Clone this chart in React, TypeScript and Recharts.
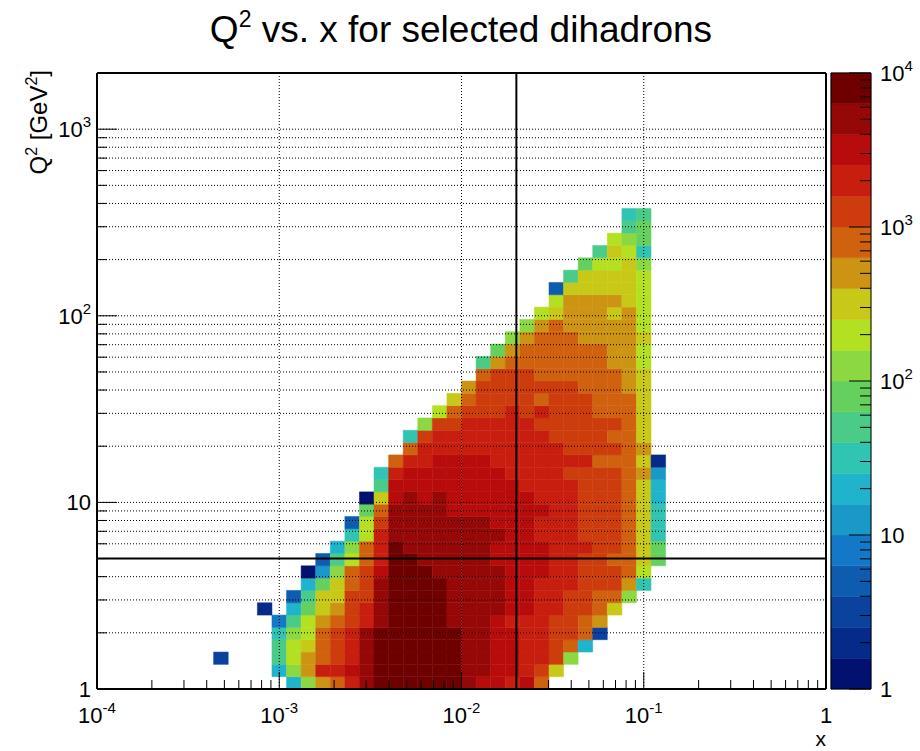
import { ReferenceArea, ReferenceLine, ScatterChart, XAxis, YAxis } from 'recharts';

const FONT = '"Liberation Sans", Arial, Helvetica, sans-serif';

// histogram binning: 50 log-spaced bins on each axis
const X_RANGE: [number, number] = [1e-4, 1];
const Y_RANGE: [number, number] = [1, 2000];
const Z_RANGE: [number, number] = [1, 1e4];
const N_BINS = 50;

// cut lines drawn over the histogram
const X_CUT = 0.02;
const Q2_CUT = 5;

// colour scale, 20 steps (5 per decade) from 1 to 10^4 entries
const PALETTE = [
  '#021070', '#062a8a', '#0a429e', '#0e5cb0', '#1478c8',
  '#1a98c8', '#20b4cc', '#30c4b2', '#4acc88', '#66d05e',
  '#8cd842', '#b4e022', '#c8c818', '#cc9412', '#d0620f',
  '#cc3c0c', '#c81e10', '#b80c0c', '#960808', '#6e0000',
];

// bin contents, one row per Q2 bin (bottom row first).
// ROW_START is the first x bin of the row; each character is the colour step
// of a bin (0-9, then a-j for 10-19), '.' is an empty bin
const ROW_START = [
  13, 12, 8, 12, 12, 12, 11, 13, 14, 14, 15, 16, 17, 17, 18, 18, 19, 19, 20, 21,
  21, 22, 23, 24, 25, 26, 26, 27, 28, 29, 30, 31, 31, 32, 33, 34, 35, 36, 36,
];
const ROW_LEVELS = [
  '6adegijjjjjjihhghe',
  '6adgghijjjjjjiihhgfc',
  '2...8bdefgijjjjjjiihhggfa',
  '8bcefgijjjjjjiihhggfe6',
  '7abefgijjjjjjiihhggffe2',
  '48bdefgijjjjiiihgggffed',
  '1.69cdfgijjjjiiiihhggffec',
  '38ccffijjjjiiiihhggffeea',
  '69cefijjjjiiiihhgggfffd7',
  '05aefhjjjiiiiihhhggfffeb',
  '38begjjiiiiihhhhggffeec9',
  '6aegjiiiiiihhhhgggffec9',
  '7bgiiiiiiiihhgggfffec7',
  '3bfiiiiiiihhhgggfffec7',
  '9eiiiihhhhhhhggfffec7',
  '0chihihhhhhhgggfffec6',
  '8hhhhhhhhhggggfffec6',
  '7ghhhhhhhggggffffed5',
  'egghhhhgggggggeeec1',
  'eggggggggggffffed',
  '7fggggggggffffeec',
  'affgggggffffffec',
  'befffgfgfffeeec',
  'ceffffefffeeec',
  'dfffffffeeedc',
  'efffeeeeeedc',
  '8deeeeeeeddb',
  '9deeeeeeddb',
  'adeeeddddc',
  'adedddddb',
  'bcdddcdb',
  'bddddcb',
  '3cccccb',
  '8ccccb',
  '9bbca',
  '8cb7',
  'ba9',
  '89',
  '78',
];

const logTicks = (lo: number, hi: number) => {
  const ticks: number[] = [];
  for (let e = lo; e < hi; e++) {
    for (let m = 1; m < 10; m++) ticks.push(m * Math.pow(10, e));
  }
  ticks.push(Math.pow(10, hi));
  return ticks;
};

const X_TICKS = logTicks(-4, 0);
const Y_TICKS = [...logTicks(0, 3), 2000];
const Z_TICKS = logTicks(0, 4);

const binEdge = (range: [number, number], k: number) =>
  range[0] * Math.pow(range[1] / range[0], k / N_BINS);

const colorOf = (count: number) => {
  const step = Math.floor(Math.log10(count) * 5);
  return PALETTE[Math.max(0, Math.min(PALETTE.length - 1, step))];
};

type Cell = { x1: number; x2: number; y1: number; y2: number; count: number };

const cells: Cell[] = [];
ROW_LEVELS.forEach((row, j) => {
  row.split('').forEach((ch, p) => {
    if (ch === '.') return;
    const i = ROW_START[j] + p;
    cells.push({
      x1: binEdge(X_RANGE, i),
      x2: binEdge(X_RANGE, i + 1),
      y1: binEdge(Y_RANGE, j),
      y2: binEdge(Y_RANGE, j + 1),
      count: Math.pow(10, (parseInt(ch, 36) + 0.5) / 5),
    });
  });
});

const isMajor = (v: number) => {
  const l = Math.log10(v);
  return Math.abs(l - Math.round(l)) < 1e-6;
};

function PowLabel({ x, y, value, anchor }: { x: number; y: number; value: number; anchor: 'start' | 'middle' | 'end' }) {
  const e = Math.round(Math.log10(value));
  return (
    <text x={x} y={y} textAnchor={anchor} fontSize={22} fontFamily={FONT} fill="#000">
      {e === 0 ? '1' : '10'}
      {e !== 0 && e !== 1 && (
        <tspan dy={-10} fontSize={15}>
          {e < 0 ? `-${-e}` : `${e}`}
        </tspan>
      )}
    </text>
  );
}

const XTick = (props: any) => {
  const { x, y, payload } = props;
  const major = isMajor(payload.value);
  return (
    <g>
      <line x1={x} x2={x} y1={y} y2={y - (major ? 17 : 9)} stroke="#000" />
      {major && <PowLabel x={x} y={y + 34} value={payload.value} anchor="middle" />}
    </g>
  );
};

const YTick = (props: any) => {
  const { x, y, payload } = props;
  const major = isMajor(payload.value);
  return (
    <g>
      <line x1={x} x2={x + (major ? 20 : 10)} y1={y} y2={y} stroke="#000" />
      {major && <PowLabel x={x - 6} y={y + 8} value={payload.value} anchor="end" />}
    </g>
  );
};

const ZTick = (props: any) => {
  const { x, y, payload } = props;
  const major = isMajor(payload.value);
  return (
    <g>
      <line x1={x} x2={x - (major ? 22 : 11)} y1={y} y2={y} stroke="#000" />
      {major && <PowLabel x={x + 9} y={y + 8} value={payload.value} anchor="start" />}
    </g>
  );
};

const DECADES = [1e-3, 1e-2, 1e-1];

export default function App() {
  return (
    <div style={{ position: 'absolute', left: 0, top: 0, width: 920, height: 751, background: '#fff' }}>
      <div style={{ position: 'absolute', left: 0, top: 0 }}>
        <ScatterChart width={920} height={751} margin={{ top: 73, right: 94, bottom: 22, left: 37 }}>
          <XAxis
            type="number"
            dataKey="x"
            scale="log"
            domain={X_RANGE}
            ticks={X_TICKS}
            interval={0}
            tick={<XTick />}
            tickLine={false}
            axisLine={false}
            tickSize={0}
            tickMargin={0}
            height={40}
            allowDataOverflow
          />
          <YAxis
            type="number"
            dataKey="y"
            scale="log"
            domain={Y_RANGE}
            ticks={Y_TICKS}
            interval={0}
            tick={<YTick />}
            tickLine={false}
            axisLine={false}
            tickSize={0}
            tickMargin={0}
            width={60}
            allowDataOverflow
          />
          {cells.map((c, k) => (
            <ReferenceArea
              key={`c${k}`}
              x1={c.x1}
              x2={c.x2}
              y1={c.y1}
              y2={c.y2}
              fill={colorOf(c.count)}
              fillOpacity={1}
              stroke={colorOf(c.count)}
              strokeWidth={0.5}
              ifOverflow="visible"
            />
          ))}
          {DECADES.map((v) => (
            <ReferenceLine key={`gx${v}`} x={v} stroke="#000" strokeDasharray="1 2" ifOverflow="visible" />
          ))}
          {Y_TICKS.slice(1, -1).map((v) => (
            <ReferenceLine key={`gy${v}`} y={v} stroke="#000" strokeDasharray="1 2" ifOverflow="visible" />
          ))}
          <ReferenceLine x={X_CUT} stroke="#000" strokeWidth={2} ifOverflow="visible" />
          <ReferenceLine y={Q2_CUT} stroke="#000" strokeWidth={2} ifOverflow="visible" />
          <ReferenceLine x={X_RANGE[0]} stroke="#000" strokeWidth={2} ifOverflow="visible" />
          <ReferenceLine x={X_RANGE[1]} stroke="#000" strokeWidth={2} ifOverflow="visible" />
          <ReferenceLine y={Y_RANGE[0]} stroke="#000" strokeWidth={2} ifOverflow="visible" />
          <ReferenceLine y={Y_RANGE[1]} stroke="#000" strokeWidth={2} ifOverflow="visible" />
          <text x={461} y={42} textAnchor="middle" fontSize={37} fontFamily={FONT} fill="#000">
            Q<tspan dy={-15} fontSize={23}>2</tspan>
            <tspan dy={15}> vs. x for selected dihadrons</tspan>
          </text>
          <text transform="rotate(-90)" x={-70} y={47} textAnchor="end" fontSize={24} fontFamily={FONT} fill="#000">
            Q<tspan dy={-10} fontSize={16}>2</tspan>
            <tspan dy={10}> [GeV</tspan>
            <tspan dy={-10} fontSize={16}>2</tspan>
            <tspan dy={10}>]</tspan>
          </text>
          <text x={826} y={746} textAnchor="end" fontSize={21} fontFamily={FONT} fill="#000">
            x
          </text>
        </ScatterChart>
      </div>
      <div style={{ position: 'absolute', left: 0, top: 0 }}>
        <ScatterChart width={920} height={751} margin={{ top: 73, right: 9, bottom: 62, left: 831 }}>
          <XAxis type="number" dataKey="x" domain={[0, 1]} hide allowDataOverflow />
          <YAxis
            type="number"
            dataKey="z"
            orientation="right"
            scale="log"
            domain={Z_RANGE}
            ticks={Z_TICKS}
            interval={0}
            tick={<ZTick />}
            tickLine={false}
            axisLine={false}
            tickSize={0}
            tickMargin={0}
            width={40}
            allowDataOverflow
          />
          {PALETTE.map((c, k) => (
            <ReferenceArea
              key={`z${k}`}
              x1={0}
              x2={1}
              y1={Math.pow(10, k / 5)}
              y2={Math.pow(10, (k + 1) / 5)}
              fill={c}
              fillOpacity={1}
              stroke={c}
              strokeWidth={0.5}
              ifOverflow="visible"
            />
          ))}
          <ReferenceLine x={0} stroke="#000" ifOverflow="visible" />
          <ReferenceLine x={1} stroke="#000" ifOverflow="visible" />
          <ReferenceLine y={Z_RANGE[0]} stroke="#000" ifOverflow="visible" />
          <ReferenceLine y={Z_RANGE[1]} stroke="#000" ifOverflow="visible" />
        </ScatterChart>
      </div>
    </div>
  );
}
